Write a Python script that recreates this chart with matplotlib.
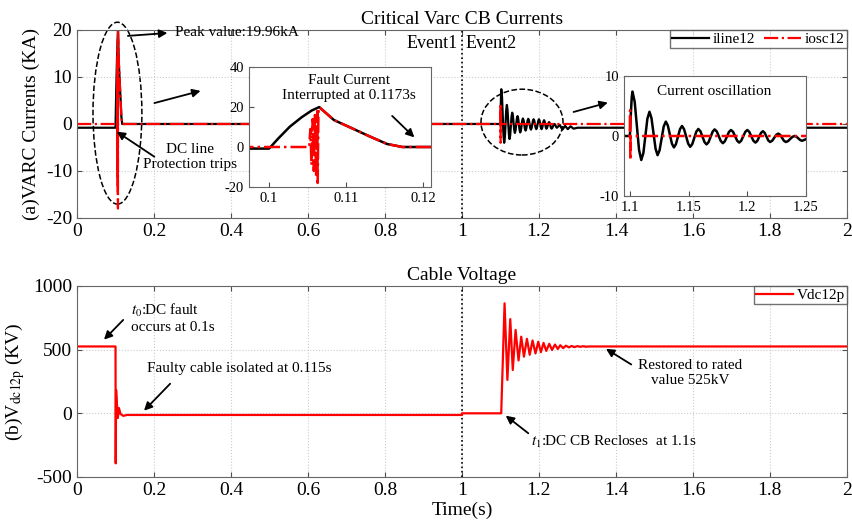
import matplotlib.pyplot as plt
from matplotlib.patches import Ellipse

plt.rcParams['font.family'] = ['Liberation Serif', 'DejaVu Serif']
plt.rcParams['mathtext.fontset'] = 'stix'
plt.rcParams['axes.unicode_minus'] = False

# (a) VARC CB currents
t_line = [0, 0.1, 0.1012, 0.1027, 0.1042, 0.1055, 0.1065, 0.1084, 0.1105, 0.1131, 0.1153, 0.1173,
          1.1, 1.1008, 1.1016, 1.1022, 1.1041, 1.1078, 1.1097, 1.1115, 1.1149, 1.1167, 1.1184,
          1.1219, 1.1236, 1.1253, 1.1288, 1.1306, 1.1323, 1.1358, 1.1375, 1.1392, 1.1427, 1.1444,
          1.1461, 1.1497, 1.1514, 1.1531, 1.1566, 1.1583, 1.1601, 1.1636, 1.1653, 1.1670, 1.1705,
          1.1722, 1.1740, 1.1775, 1.1792, 1.1809, 1.1844, 1.1861, 1.1879, 1.1914, 1.1931, 1.1948,
          1.1983, 1.2000, 1.2017, 1.2052, 1.2069, 1.2085, 1.2117, 1.2133, 1.2148, 1.2179, 1.2194,
          1.2212, 1.2247, 1.2264, 1.2280, 1.2312, 1.2328, 1.2347, 1.2384, 1.2403, 1.2419, 1.2451,
          1.2467, 1.2540, 1.2610, 1.2680, 1.2750, 1.2820, 1.2900, 1.3000, 2.0]
i_line = [-0.8, -0.8, 4.3, 10.2, 14.8, 18.2, 19.96, 13.5, 9.8, 5.2, 1.5, 0,
          0, 3.6, 6.5, 7.4, 5.7, -2.3, -4.0, -2.83, 2.86, 4.05, 2.98,
          -2.14, -3.2, -2.38, 1.58, 2.4, 1.77, -1.27, -1.9, -1.37, 1.15, 1.67,
          1.16, -1.29, -1.8, -1.37, 0.73, 1.17, 0.79, -1.03, -1.4, -1.03, 0.73,
          1.1, 0.76, -0.86, -1.2, -0.88, 0.68, 1.0, 0.69, -0.79, -1.1, -0.79,
          0.69, 1.0, 0.69, -0.79, -1.1, -0.82, 0.52, 0.8, 0.53, -0.74, -1.0,
          -0.79, 0.19, 0.4, 0.19, -0.79, -1.0, -0.85, -0.15, 0.0, -0.12, -0.68,
          -0.8, -0.2, -1.2, -0.4, -1.1, -0.5, -1.0, -0.8, -0.8]

t_osc = [0, 0.1052, 0.10535, 0.1055, 0.10565, 0.1058, 0.10595, 0.1061, 0.10625, 0.1063, 0.1064,
         0.1065, 0.1084, 0.1105, 0.1131, 0.1153, 0.1173, 1.1, 1.1002, 1.1004, 1.1006, 2.0]
i_osc = [0, 0, 9, -9, 14, -12, 16, -15, 18, -18, 17,
         19.96, 13.5, 9.8, 5.2, 1.5, 0, 0, 4.3, -4.0, 0, 0]

# (b) cable voltage
t_vdc = [0, 0.1, 0.1005, 0.1015, 0.1035, 0.106, 0.109, 0.113, 0.12, 0.13, 1.0, 1.0, 1.102,
         1.1107, 1.118, 1.1255, 1.132, 1.1393, 1.147, 1.154, 1.161, 1.1688, 1.176, 1.1834,
         1.191, 1.1982, 1.205, 1.212, 1.219, 1.2268, 1.234, 1.2416, 1.249, 1.2554, 1.263,
         1.2701, 1.278, 1.285, 1.292, 1.300, 1.307, 1.315, 1.322, 1.33, 1.40, 2.0]
v_dc = [525, 525, -393, 183, 81, -37, 41, -5, -20, -13, -13, 0, 0,
        864, 262, 740, 340, 655, 415, 602, 445, 585, 460, 572,
        470, 562, 480, 553, 490, 546, 497, 540, 505, 535, 512,
        531, 518, 529, 520, 528, 522, 527, 523, 525, 525, 525]

fig = plt.figure(figsize=(8.52, 5.26), dpi=100)
ax1 = fig.add_axes([0.0904, 0.5856, 0.9036, 0.3574])
ax2 = fig.add_axes([0.0904, 0.0932, 0.9036, 0.3631])

for ax in (ax1, ax2):
    ax.set_xlim(0, 2)
    ax.set_xticks([0, 0.2, 0.4, 0.6, 0.8, 1, 1.2, 1.4, 1.6, 1.8, 2])
    ax.set_xticklabels(['0', '0.2', '0.4', '0.6', '0.8', '1', '1.2', '1.4', '1.6', '1.8', '2'])
    ax.grid(True, linestyle=':', color='0.8', linewidth=0.8)
    ax.tick_params(direction='in', labelsize=14, top=True, right=True, color='0.3')
    for s in ax.spines.values():
        s.set_color('0.4')
    ax.axvline(1, color='k', linestyle=':', linewidth=1.2)

ax1.plot(t_line, i_line, color='k', lw=1.6, label='iline12')
ax1.plot(t_osc, i_osc, color='red', lw=1.6, linestyle='-.', label='iosc12')
ax1.set_ylim(-20, 20)
ax1.set_yticks([-20, -10, 0, 10, 20])
ax1.set_ylabel('(a)VARC Currents (KA)', fontsize=14)
ax1.set_title('Critical Varc CB Currents', fontsize=14, pad=4)
ax1.legend(loc='upper right', ncol=2, fontsize=11, borderaxespad=0, fancybox=False,
           edgecolor='0.3', handlelength=2.4, handletextpad=0.25, columnspacing=0.6,
           borderpad=0.15)
ax1.text(0.99, 17.2, 'Event1', ha='right', va='center', fontsize=13)
ax1.text(1.01, 17.2, 'Event2', ha='left', va='center', fontsize=13)

ax1.add_patch(Ellipse((0.105, 2.3), 0.127, 38.7, fill=False, ls='--', ec='k', lw=1.1, clip_on=False))
ax1.add_patch(Ellipse((1.156, 0.4), 0.213, 14, fill=False, ls='--', ec='k', lw=1.1))
arr = dict(arrowstyle='-|>', color='k', lw=1.3, mutation_scale=12)
ax1.annotate('', xy=(0.242, 19.4), xytext=(0.125, 18.7), arrowprops=arr, annotation_clip=False)
ax1.text(0.255, 19.4, 'Peak value:19.96kA', fontsize=11, va='center', ha='left')
ax1.annotate('', xy=(0.097, -1.3), xytext=(0.207, -7.3), arrowprops=arr)
ax1.text(0.2935, -7.0, 'DC line\nProtection trips', fontsize=11, ha='center', va='center',
         linespacing=1.25)
ax1.annotate('', xy=(0.328, 7.2), xytext=(0.194, 4.3), arrowprops=arr)
ax1.annotate('', xy=(1.386, 4.7), xytext=(1.283, 2.4), arrowprops=arr)

ax2.plot(t_vdc, v_dc, color='red', lw=1.6, label='Vdc12p')
ax2.set_ylim(-500, 1000)
ax2.set_yticks([-500, 0, 500, 1000])
ax2.set_ylabel(r'(b)V$_{\mathrm{dc12p}}$ (KV)', fontsize=14)
ax2.set_title('Cable Voltage', fontsize=14, pad=4)
ax2.set_xlabel('Time(s)', fontsize=14, labelpad=2)
ax2.legend(loc='upper right', fontsize=11, borderaxespad=0, fancybox=False,
           edgecolor='0.3', handlelength=2.4, handletextpad=0.25, borderpad=0.15)
ax2.annotate('', xy=(0.065, 563), xytext=(0.125, 749), arrowprops=arr)
ax2.text(0.139, 749, '$t_0$:DC fault\noccurs at 0.1s', fontsize=11, ha='left', va='center')
ax2.annotate('', xy=(0.169, 5), xytext=(0.247, 248), arrowprops=arr)
ax2.text(0.181, 354, 'Faulty cable isolated at 0.115s', fontsize=11, ha='left', va='center')
ax2.annotate('', xy=(1.108, -5), xytext=(1.178, -170), arrowprops=arr)
ax2.text(1.18, -223, '$t_1$:DC CB Recloses  at 1.1s', fontsize=11, ha='left', va='center')
ax2.annotate('', xy=(1.368, 518), xytext=(1.446, 372), arrowprops=arr)
ax2.text(1.593, 320, 'Restored to rated\nvalue 525kV', fontsize=11, ha='center', va='center')

# inset 1: fault current zoom
in1 = fig.add_axes([0.2923, 0.6445, 0.2136, 0.2281])
in1.plot(t_line, i_line, color='k', lw=1.8)
in1.plot(t_osc, i_osc, color='red', lw=1.8, linestyle='-.')
in1.set_xlim(0.0974, 0.121)
in1.set_ylim(-20, 40)
in1.set_xticks([0.1, 0.11, 0.12])
in1.set_xticklabels(['0.1', '0.11', '0.12'])
in1.set_yticks([-20, 0, 20, 40])
in1.tick_params(direction='in', labelsize=10.5, color='0.3')
in1.text(0.1103, 29.75, 'Fault Current\nInterrupted at 0.1173s', fontsize=11, ha='center', va='center')
in1.annotate('', xy=(0.1191, 3.85), xytext=(0.1157, 16.5), arrowprops=arr)

# inset 2: current oscillation zoom
in2 = fig.add_axes([0.7324, 0.6274, 0.2136, 0.2281])
in2.plot(t_line, i_line, color='k', lw=1.8)
in2.plot(t_osc, i_osc, color='red', lw=1.8, linestyle='-.')
in2.set_xlim(1.095, 1.25)
in2.set_ylim(-10, 10)
in2.set_xticks([1.1, 1.15, 1.2, 1.25])
in2.set_xticklabels(['1.1', '1.15', '1.2', '1.25'])
in2.set_yticks([-10, 0, 10])
in2.tick_params(direction='in', labelsize=10.5, color='0.3')
in2.text(1.172, 7.4, 'Current oscillation', fontsize=11, ha='center', va='center')

for ax in (in1, in2):
    for s in ax.spines.values():
        s.set_color('0.4')

fig.savefig('out.png', dpi=100)
